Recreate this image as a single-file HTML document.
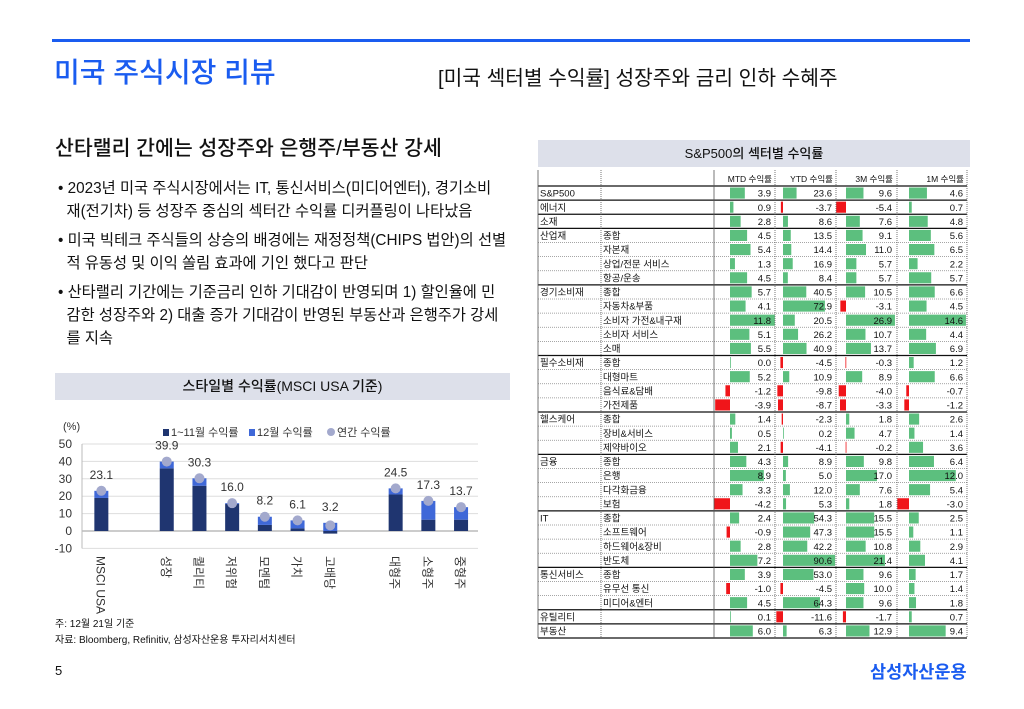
<!DOCTYPE html>
<html><head><meta charset="utf-8">
<style>
body{margin:0;width:1024px;height:709px;background:#fff;position:relative;overflow:hidden;font-family:"Liberation Sans","Noto Sans CJK KR",sans-serif;color:#111}
.a{position:absolute;white-space:nowrap}
.bl{position:absolute;left:58px;font-size:15.3px;line-height:23px}
</style></head><body>
<div class="a" style="left:52px;top:39px;width:918px;height:3px;background:#1a5cf0"></div>
<div class="a" style="left:54px;top:51px;font-size:28px;color:#1a5cf0;font-weight:500">미국 주식시장 리뷰</div>
<div class="a" style="left:438px;top:61px;font-size:20.3px">[미국 섹터별 수익률] 성장주와 금리 인하 수혜주</div>
<div class="a" style="left:55px;top:131px;font-size:20.5px;font-weight:500">산타랠리 간에는 성장주와 은행주/부동산 강세</div>
<div class="bl" style="top:177px">• 2023년 미국 주식시장에서는 IT, 통신서비스(미디어엔터), 경기소비<br>&nbsp;&nbsp;재(전기차) 등 성장주 중심의 섹터간 수익률 디커플링이 나타났음</div>
<div class="bl" style="top:229px">• 미국 빅테크 주식들의 상승의 배경에는 재정정책(CHIPS 법안)의 선별<br>&nbsp;&nbsp;적 유동성 및 이익 쏠림 효과에 기인 했다고 판단</div>
<div class="bl" style="top:281px">• 산타랠리 기간에는 기준금리 인하 기대감이 반영되며 1) 할인율에 민<br>&nbsp;&nbsp;감한 성장주와 2) 대출 증가 기대감이 반영된 부동산과 은행주가 강세<br>&nbsp;&nbsp;를 지속</div>
<div class="a" style="left:55px;top:373px;width:455px;height:27px;background:#dde0ea;font-size:14px;line-height:27px;text-align:center;font-weight:500">스타일별 수익률(MSCI USA 기준)</div>
<svg class="a" id="ch" style="left:0;top:0" width="520" height="620"></svg>
<div class="a" style="left:55px;top:615px;font-size:10px">주: 12월 21일 기준</div>
<div class="a" style="left:55px;top:631px;font-size:10px">자료: Bloomberg, Refinitiv, 삼성자산운용 투자리서치센터</div>
<div class="a" style="left:538px;top:140px;width:432px;height:27px;background:#dde0ea;font-size:13px;line-height:27px;text-align:center;font-weight:500">S&amp;P500의 섹터별 수익률</div>
<svg class="a" id="tb" style="left:0;top:0" width="1024" height="650"></svg>
<div class="a" style="left:55px;top:663px;font-size:13px">5</div>
<div class="a" style="left:870px;top:659px;font-size:17.5px;color:#1a5cf0;font-weight:700">삼성자산운용</div>
<script>
const cats=["MSCI USA","","성장","퀄리티","저위험","모멘텀","가치","고배당","","대형주","소형주","중형주"];
const ytdNov=[19,null,36,26,15.5,3.5,1.5,-1.5,null,21,6.5,6.5];
const dec=[4.1,null,3.9,4.3,0.5,4.7,4.6,6.2,null,3.5,10.8,7.2];
const annual=[23.1,null,39.9,30.3,16.0,8.2,6.1,3.2,null,24.5,17.3,13.7];
const yTicks=[50,40,30,20,10,0,-10];
const NS="http://www.w3.org/2000/svg";
function mk(p,t,a,txt){const e=document.createElementNS(NS,t);for(const k in a)e.setAttribute(k,a[k]);if(txt!=null)e.textContent=txt;p.appendChild(e);return e;}
const ch=document.getElementById('ch');
const y=v=>531-v*1.74, x0=85,sw=32.7, cx=i=>x0+sw*(i+0.5);
yTicks.forEach(t=>{const g=mk(ch,'line',{x1:82,x2:478,y1:y(t),y2:y(t),stroke:t==0?'#999':'#ddd','stroke-width':1});

const l=mk(ch,'text',{x:72,y:y(t)+4,'text-anchor':'end','font-size':12,fill:'#333'},t);
});
mk(ch,'line',{x1:82,x2:82,y1:y(50),y2:y(-10),stroke:'#bbb'});
mk(ch,'text',{x:63,y:430,'font-size':11,fill:'#333'},'(%)');
cats.forEach((c,i)=>{
 if(ytdNov[i]!=null){
  const a=ytdNov[i],b=a+dec[i];
  const r1=mk(ch,'rect',{x:cx(i)-7,y:Math.min(y(a),y(0)),width:14,height:Math.abs(y(a)-y(0)),fill:'#1f3570'});
  
  const lo=Math.max(a,0);
  const r2=mk(ch,'rect',{x:cx(i)-7,y:y(b),width:14,height:y(lo)-y(b),fill:'#3f68d8'});
  
  const d=mk(ch,'circle',{cx:cx(i),cy:y(annual[i]),r:5,fill:'#a3a9cd'});
  
  const tl=mk(ch,'text',{x:cx(i),y:y(Math.max(annual[i],b))-12,'text-anchor':'middle','font-size':12,fill:'#333'},annual[i].toFixed(1));
  
 }
 if(c){const t=mk(ch,'text',{x:cx(i)-5,y:556,'font-size':12,fill:'#333',transform:`rotate(90 ${cx(i)-5} 556)`},c);
 }
});
mk(ch,'rect',{x:163,y:429,width:6,height:7,fill:'#1f3570'});
mk(ch,'text',{x:171,y:436,'font-size':11,fill:'#333'},'1~11월 수익률');
mk(ch,'rect',{x:249,y:429,width:6,height:7,fill:'#3f68d8'});
mk(ch,'text',{x:257,y:436,'font-size':11,fill:'#333'},'12월 수익률');
mk(ch,'circle',{cx:331,cy:432,r:4,fill:'#a3a9cd'});
mk(ch,'text',{x:337,y:436,'font-size':11,fill:'#333'},'연간 수익률');

// table
const groups=["S&P500","에너지","소재","산업재","","","","경기소비재","","","","","필수소비재","","","","헬스케어","","","금융","","","","IT","","","","통신서비스","","","유틸리티","부동산"];
const subs=["","","","종합","자본재","상업/전문 서비스","항공/운송","종합","자동차&부품","소비자 가전&내구재","소비자 서비스","소매","종합","대형마트","음식료&담배","가전제품","종합","장비&서비스","제약바이오","종합","은행","다각화금융","보험","종합","소프트웨어","하드웨어&장비","반도체","종합","유무선 통신","미디어&엔터","",""];
const mtd=[3.9,0.9,2.8,4.5,5.4,1.3,4.5,5.7,4.1,11.8,5.1,5.5,0.0,5.2,-1.2,-3.9,1.4,0.5,2.1,4.3,8.9,3.3,-4.2,2.4,-0.9,2.8,7.2,3.9,-1.0,4.5,0.1,6.0];
const ytd=[23.6,-3.7,8.6,13.5,14.4,16.9,8.4,40.5,72.9,20.5,26.2,40.9,-4.5,10.9,-9.8,-8.7,-2.3,0.2,-4.1,8.9,5.0,12.0,5.3,54.3,47.3,42.2,90.6,53.0,-4.5,64.3,-11.6,6.3];
const m3=[9.6,-5.4,7.6,9.1,11.0,5.7,5.7,10.5,-3.1,26.9,10.7,13.7,-0.3,8.9,-4.0,-3.3,1.8,4.7,-0.2,9.8,17.0,7.6,1.8,15.5,15.5,10.8,21.4,9.6,10.0,9.6,-1.7,12.9];
const m1=[4.6,0.7,4.8,5.6,6.5,2.2,5.7,6.6,4.5,14.6,4.4,6.9,1.2,6.6,-0.7,-1.2,2.6,1.4,3.6,6.4,12.0,5.4,-3.0,2.5,1.1,2.9,4.1,1.7,1.4,1.8,0.7,9.4];
const cols=[{d:mtd,z:730,s:3.8,r:774,h:"MTD 수익률"},{d:ytd,z:783,s:0.575,r:835,h:"YTD 수익률"},{d:m3,z:846,s:1.82,r:895,h:"3M 수익률"},{d:m1,z:909,s:3.9,r:966,h:"1M 수익률"}];
const tb=document.getElementById('tb');
const N=mtd.length;
const top0=186,rh=452/N;
const bounds=[538,601,714,775,836,897,967];
mk(tb,'line',{x1:538,x2:967,y1:top0,y2:top0,stroke:'#111','stroke-width':1.3});
cols.forEach(c=>{const t=mk(tb,'text',{x:c.r-2,y:182,'text-anchor':'end','font-size':8.5,fill:'#111'},c.h);
});
for(let i=0;i<N;i++){
 const yt=top0+i*rh, yb=yt+rh;
 const major=(i+1>=N)||groups[i+1]!=="";
 mk(tb,'line',{x1:538,x2:967,y1:yb,y2:yb,stroke:major?'#111':'#888','stroke-width':major?1.3:0.8,'stroke-dasharray':major?'':'1,1'});
 if(groups[i]){const g=mk(tb,'text',{x:540,y:yb-3.5,'font-size':9.5,fill:'#111'},groups[i]);}
 if(subs[i]){const s=mk(tb,'text',{x:603,y:yb-3.5,'font-size':9.5,fill:'#111'},subs[i]);}
 cols.forEach(c=>{const v=c.d[i];const w=Math.abs(v)*c.s;
  const r=mk(tb,'rect',{x:v>=0?c.z:c.z-w,y:yt+1.5,width:Math.max(w,0.8),height:rh-3,fill:v>=0?'#5cbf7e':'#f0151a'});
  
  const t=mk(tb,'text',{x:c.r-3,y:yb-3.5,'text-anchor':'end','font-size':9.5,fill:'#111'},v.toFixed(1));
  });
}
bounds.forEach((b,k)=>{mk(tb,'line',{x1:b,x2:b,y1:170,y2:top0+N*rh,stroke:'#555','stroke-width':0.8,'stroke-dasharray':k==1||k>=3?'1,1':''});});
</script>
</body></html>
